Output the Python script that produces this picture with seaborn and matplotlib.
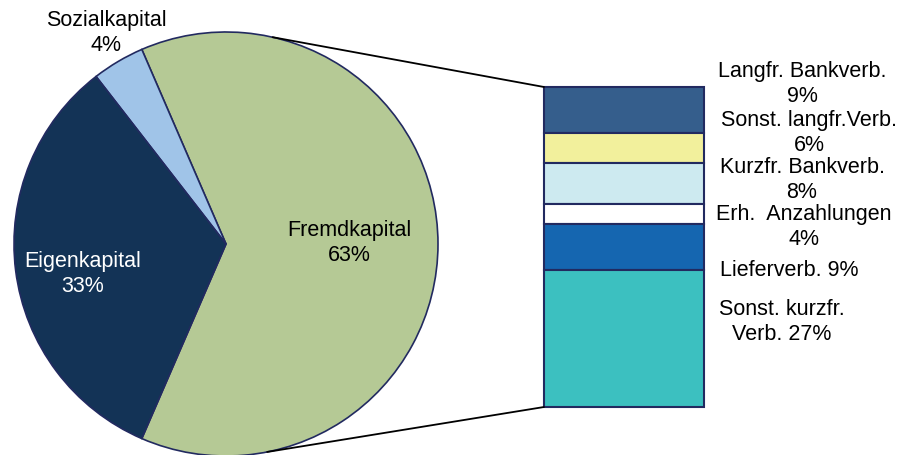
import matplotlib
matplotlib.use("Agg")
import matplotlib.pyplot as plt
import numpy as np
import seaborn as sns

# pie data
pie_labels = ["Fremdkapital", "Sozialkapital", "Eigenkapital"]
pie_values = [63, 4, 33]
pie_colors = ["#B5C995", "#A0C4E8", "#133356"]

# breakdown of Fremdkapital (top to bottom)
bar_labels = ["Langfr. Bankverb.\n9%", "Sonst. langfr.Verb.\n6%", "Kurzfr. Bankverb.\n8%",
              "Erh.  Anzahlungen\n4%", "Lieferverb. 9%", "Sonst. kurzfr.\nVerb. 27%"]
bar_values = [9, 6, 8, 4, 9, 27]
bar_colors = ["#355E8C", "#F2F09C", "#CDEAF0", "#FFFFFF", "#1566B0", "#3CC0C0"]

sns.set_theme(style="white")
plt.rcParams["font.family"] = ["Liberation Sans", "DejaVu Sans"]

W, H = 902, 456
fig = plt.figure(figsize=(W / 100, H / 100), dpi=100)
ax = fig.add_axes([0, 0, 1, 1])

edge = "#222A60"
cx, cy, r = 226, H - 245, 212
start = -pie_values[0] / 100 * 360 / 2
ax.pie(pie_values, colors=pie_colors, startangle=start, counterclock=True,
       center=(cx, cy), radius=r, frame=True,
       wedgeprops={"edgecolor": edge, "linewidth": 1.2})
ax.set_xlim(0, W)
ax.set_ylim(0, H)
ax.set_aspect("equal")
ax.axis("off")

fs = 15.5
ls = 1.2
ax.text(349, H - 243, "Fremdkapital\n63%", ha="center", va="center", fontsize=fs,
        color="black", linespacing=ls)
ax.text(83, H - 274, "Eigenkapital\n33%", ha="center", va="center", fontsize=fs,
        color="white", linespacing=ls)
ax.text(106, H - 33, "Sozialkapital\n4%", ha="center", va="center", fontsize=fs,
        color="black", linespacing=ls)

# stacked bar
bx, bw = 624, 160
btop, bbot = H - 88, H - 408
scale = (btop - bbot) / sum(bar_values)
bottom = btop
for val, col in zip(bar_values, bar_colors):
    h = val * scale
    bottom -= h
    ax.bar(bx, h, width=bw, bottom=bottom, color=col, edgecolor=edge, linewidth=1.5)

# connectors
a1, a2 = np.deg2rad(77.3), np.deg2rad(-78.8)
ax.plot([cx + r * np.cos(a1), bx - bw / 2], [cy + r * np.sin(a1), btop], color="black", lw=1.3)
ax.plot([cx + r * np.cos(a2), bx - bw / 2], [cy + r * np.sin(a2), bbot], color="black", lw=1.3)

label_pos = [(802, 84), (809, 133), (802, 180), (804, 227), (789, 270), (782, 322)]
for text, (lx, ly) in zip(bar_labels, label_pos):
    ax.text(lx, H - ly, text, ha="center", va="center", fontsize=fs,
            color="black", linespacing=ls)

fig.savefig("out.png", dpi=100)
